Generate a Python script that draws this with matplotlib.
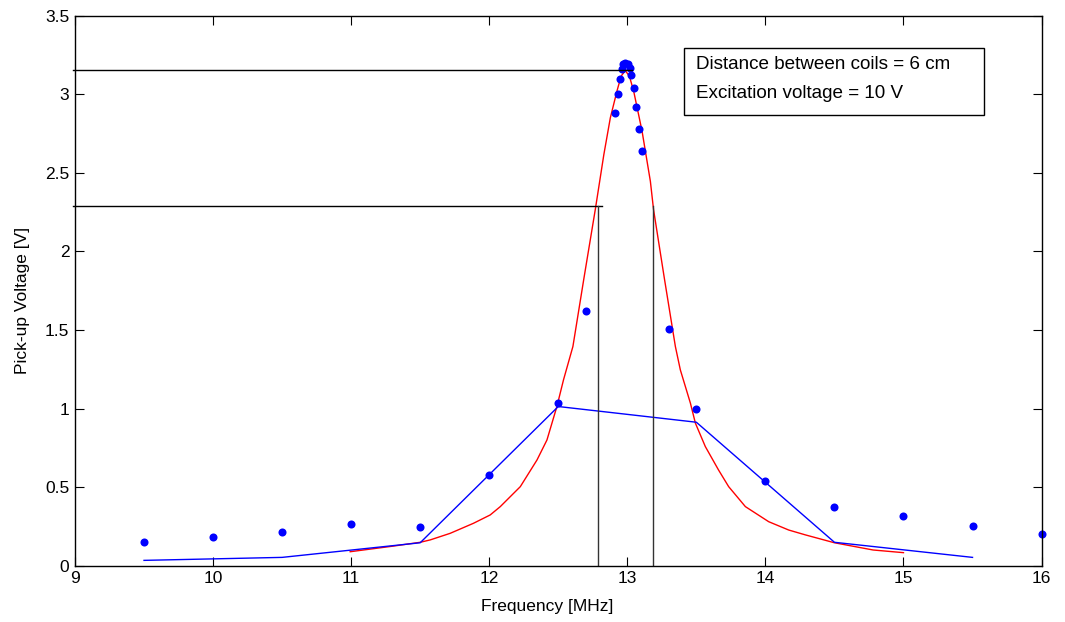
import numpy as np
import matplotlib
matplotlib.use('Agg')
import matplotlib.pyplot as plt
from matplotlib.patches import Rectangle

plt.rcParams['font.family'] = ['Liberation Sans', 'DejaVu Sans']

# measured pick-up voltage (blue dots)
meas_f = [9.5, 10.0, 10.5, 11.0, 11.5, 12.0, 12.5, 12.7,
          12.91, 12.93, 12.95, 12.96, 12.966, 12.985, 13.005, 13.019,
          13.03, 13.045, 13.065, 13.087, 13.109, 13.3, 13.5,
          14.0, 14.5, 15.0, 15.5, 16.0]
meas_v = [0.153, 0.181, 0.217, 0.264, 0.245, 0.578, 1.036, 1.622,
          2.88, 3.0, 3.10, 3.16, 3.19, 3.20, 3.195, 3.168,
          3.125, 3.04, 2.917, 2.78, 2.64, 1.505, 1.0,
          0.541, 0.376, 0.318, 0.255, 0.2]

# coarse sweep (blue line)
coarse_f = [9.5, 10.5, 11.5, 12.5, 13.5, 14.5, 15.5]
coarse_v = [0.034, 0.053, 0.146, 1.013, 0.913, 0.149, 0.053]

# fitted resonance curve (red)
fit_f = [10.993, 11.307, 11.5, 11.572, 11.717, 11.886, 12.007, 12.08,
         12.225, 12.346, 12.418, 12.49, 12.538, 12.606, 12.686, 12.768,
         12.83, 12.877, 12.925, 12.955, 12.985, 13.015, 13.046, 13.107,
         13.167, 13.19, 13.268, 13.348, 13.384, 13.457, 13.493, 13.565,
         13.66, 13.734, 13.855, 14.024, 14.169, 14.29, 14.5, 14.78, 15.0]
fit_v = [0.089, 0.125, 0.149, 0.164, 0.206, 0.27, 0.323, 0.376,
         0.503, 0.673, 0.80, 1.013, 1.183, 1.395, 1.83, 2.266,
         2.616, 2.85, 3.02, 3.115, 3.151, 3.115, 3.02, 2.764,
         2.446, 2.266, 1.83, 1.395, 1.246, 1.034, 0.907, 0.758,
         0.61, 0.503, 0.376, 0.28, 0.227, 0.196, 0.146, 0.10, 0.083]

# peak and half-power markers
v_peak = 3.155
f_peak_end = 13.033
v_half = 2.289
f_half_end = 12.817
f_low = 12.788
f_high = 13.188

fig = plt.figure(figsize=(10.65, 6.22), dpi=100)
ax = fig.add_axes([0.0704, 0.0905, 0.9076, 0.8843])

ax.plot(fit_f, fit_v, color='red', linewidth=1)
ax.plot(coarse_f, coarse_v, color='blue', linewidth=1)
ax.plot(meas_f, meas_v, 'o', color='blue', markersize=5.8, markeredgewidth=0,
        clip_on=False)

ax.plot([8.985, f_peak_end], [v_peak, v_peak], color='black', linewidth=1, clip_on=False)
ax.plot([8.985, f_half_end], [v_half, v_half], color='black', linewidth=1, clip_on=False)
ax.plot([f_low, f_low], [0, v_half], color='#333333', linewidth=1)
ax.plot([f_high, f_high], [0, v_half], color='#333333', linewidth=1)

ax.set_xlim(9, 16)
ax.set_ylim(0, 3.5)
ax.set_xticks(np.arange(9, 17, 1))
ax.set_yticks(np.arange(0, 3.6, 0.5))
ax.set_yticklabels(['0', '0.5', '1', '1.5', '2', '2.5', '3', '3.5'])
ax.tick_params(direction='in', length=6.5, width=0.8, top=True, right=True,
               labelsize=12.5, colors='black', pad=4)
for s in ax.spines.values():
    s.set_linewidth(1)

ax.set_xlabel('Frequency [MHz]', fontsize=12.5, labelpad=10)
ax.xaxis.set_label_coords(0.489, -0.06)
ax.set_ylabel('Pick-up Voltage [V]', fontsize=12.5)
ax.yaxis.set_label_coords(-0.047, 0.483)

box = Rectangle((0.630, 0.8195), 0.3105, 0.1212, transform=ax.transAxes,
                facecolor='white', edgecolor='black', linewidth=1, zorder=5)
ax.add_patch(box)
ax.text(0.643, 0.912, 'Distance between coils = 6 cm', transform=ax.transAxes,
        fontsize=13.6, va='center', ha='left', zorder=6)
ax.text(0.643, 0.859, 'Excitation voltage = 10 V', transform=ax.transAxes,
        fontsize=13.6, va='center', ha='left', zorder=6)

fig.savefig('out.png', dpi=100)
